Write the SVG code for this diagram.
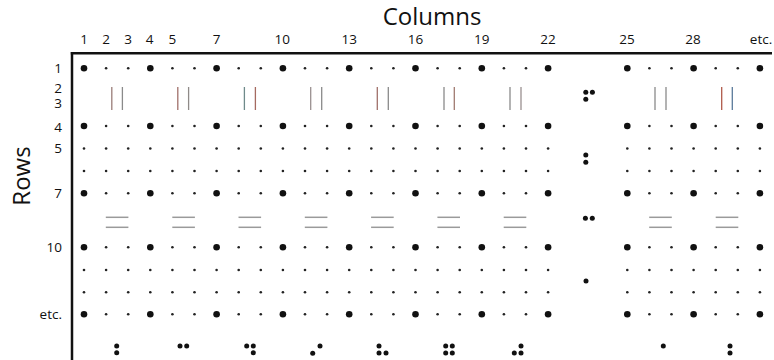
<svg xmlns="http://www.w3.org/2000/svg" xmlns:xlink="http://www.w3.org/1999/xlink" width="774" height="360" viewBox="0 0 774 360">
  <style>
    .lbl { font-family: "Open Sans", "Liberation Sans", sans-serif; font-size: 13.5px; fill: #111; }
    .title { font-family: "Open Sans", "Liberation Sans", sans-serif; font-size: 24px; fill: #111; }
    .axis { stroke: #111; stroke-width: 2.5; fill: none; }
    .eq { stroke: #9a9a9a; stroke-width: 1.5; }
    .vl { stroke-width: 1.3; }
    .big { fill: #111; }
    .sm { fill: #222; }
    .br { fill: #111; }
  </style>
  <defs>
    <g id="rowBig">
      <circle class="big" cx="84" cy="0" r="3.3"/>
      <circle class="sm" cx="106.1" cy="0" r="1.3"/>
      <circle class="sm" cx="128.2" cy="0" r="1.3"/>
      <circle class="big" cx="150.3" cy="0" r="3.3"/>
      <circle class="sm" cx="172.4" cy="0" r="1.3"/>
      <circle class="sm" cx="194.5" cy="0" r="1.3"/>
      <circle class="big" cx="216.6" cy="0" r="3.3"/>
      <circle class="sm" cx="238.7" cy="0" r="1.3"/>
      <circle class="sm" cx="260.8" cy="0" r="1.3"/>
      <circle class="big" cx="282.9" cy="0" r="3.3"/>
      <circle class="sm" cx="305" cy="0" r="1.3"/>
      <circle class="sm" cx="327.1" cy="0" r="1.3"/>
      <circle class="big" cx="349.2" cy="0" r="3.3"/>
      <circle class="sm" cx="371.3" cy="0" r="1.3"/>
      <circle class="sm" cx="393.4" cy="0" r="1.3"/>
      <circle class="big" cx="415.5" cy="0" r="3.3"/>
      <circle class="sm" cx="437.6" cy="0" r="1.3"/>
      <circle class="sm" cx="459.7" cy="0" r="1.3"/>
      <circle class="big" cx="481.8" cy="0" r="3.3"/>
      <circle class="sm" cx="503.9" cy="0" r="1.3"/>
      <circle class="sm" cx="526" cy="0" r="1.3"/>
      <circle class="big" cx="548.1" cy="0" r="3.3"/>
      <circle class="big" cx="627.3" cy="0" r="3.3"/>
      <circle class="sm" cx="649.4" cy="0" r="1.3"/>
      <circle class="sm" cx="671.5" cy="0" r="1.3"/>
      <circle class="big" cx="693.6" cy="0" r="3.3"/>
      <circle class="sm" cx="715.7" cy="0" r="1.3"/>
      <circle class="sm" cx="737.8" cy="0" r="1.3"/>
      <circle class="big" cx="759.9" cy="0" r="3.3"/>
    </g>
    <g id="rowSmall">
      <circle class="sm" cx="84" cy="0" r="1.3"/>
      <circle class="sm" cx="106.1" cy="0" r="1.3"/>
      <circle class="sm" cx="128.2" cy="0" r="1.3"/>
      <circle class="sm" cx="150.3" cy="0" r="1.3"/>
      <circle class="sm" cx="172.4" cy="0" r="1.3"/>
      <circle class="sm" cx="194.5" cy="0" r="1.3"/>
      <circle class="sm" cx="216.6" cy="0" r="1.3"/>
      <circle class="sm" cx="238.7" cy="0" r="1.3"/>
      <circle class="sm" cx="260.8" cy="0" r="1.3"/>
      <circle class="sm" cx="282.9" cy="0" r="1.3"/>
      <circle class="sm" cx="305" cy="0" r="1.3"/>
      <circle class="sm" cx="327.1" cy="0" r="1.3"/>
      <circle class="sm" cx="349.2" cy="0" r="1.3"/>
      <circle class="sm" cx="371.3" cy="0" r="1.3"/>
      <circle class="sm" cx="393.4" cy="0" r="1.3"/>
      <circle class="sm" cx="415.5" cy="0" r="1.3"/>
      <circle class="sm" cx="437.6" cy="0" r="1.3"/>
      <circle class="sm" cx="459.7" cy="0" r="1.3"/>
      <circle class="sm" cx="481.8" cy="0" r="1.3"/>
      <circle class="sm" cx="503.9" cy="0" r="1.3"/>
      <circle class="sm" cx="526" cy="0" r="1.3"/>
      <circle class="sm" cx="548.1" cy="0" r="1.3"/>
      <circle class="sm" cx="627.3" cy="0" r="1.3"/>
      <circle class="sm" cx="649.4" cy="0" r="1.3"/>
      <circle class="sm" cx="671.5" cy="0" r="1.3"/>
      <circle class="sm" cx="693.6" cy="0" r="1.3"/>
      <circle class="sm" cx="715.7" cy="0" r="1.3"/>
      <circle class="sm" cx="737.8" cy="0" r="1.3"/>
      <circle class="sm" cx="759.9" cy="0" r="1.3"/>
    </g>
    <g id="eqSign">
      <line class="eq" x1="-11.3" y1="217.3" x2="11.3" y2="217.3"/>
      <line class="eq" x1="-11.3" y1="227.3" x2="11.3" y2="227.3"/>
    </g>
  </defs>

  <rect width="774" height="360" fill="#fff"/>

  <!-- titles -->
  <text class="title" x="432" y="24.5" text-anchor="middle">Columns</text>
  <text class="title" transform="translate(30,176) rotate(-90)" text-anchor="middle">Rows</text>

  <!-- column labels -->
  <g id="colLabels" class="lbl" text-anchor="middle">
    <text x="84" y="43.5">1</text>
    <text x="106.1" y="43.5">2</text>
    <text x="128.2" y="43.5">3</text>
    <text x="149.5" y="43.5">4</text>
    <text x="172.4" y="43.5">5</text>
    <text x="216.6" y="43.5">7</text>
    <text x="282.3" y="43.5">10</text>
    <text x="349.2" y="43.5">13</text>
    <text x="415.5" y="43.5">16</text>
    <text x="481.8" y="43.5">19</text>
    <text x="548.1" y="43.5">22</text>
    <text x="627" y="43.5">25</text>
    <text x="693" y="43.5">28</text>
    <text x="761" y="43.5">etc.</text>
  </g>

  <!-- row labels -->
  <g id="rowLabels" class="lbl" text-anchor="end">
    <text x="62" y="73">1</text>
    <text x="62" y="93">2</text>
    <text x="62" y="108">3</text>
    <text x="62" y="131.5">4</text>
    <text x="62" y="153">5</text>
    <text x="62" y="198">7</text>
    <text x="62" y="252">10</text>
    <text x="62" y="319">etc.</text>
  </g>

  <!-- axes -->
  <g id="axes">
    <line class="axis" x1="70.8" y1="53.3" x2="772" y2="53.3"/>
    <line class="axis" x1="72" y1="52.1" x2="72" y2="360"/>
  </g>

  <!-- dot grid -->
  <g id="grid">
    <use xlink:href="#rowBig" href="#rowBig" y="68.3"/>
    <use xlink:href="#rowBig" href="#rowBig" y="126"/>
    <use xlink:href="#rowSmall" href="#rowSmall" y="148.5"/>
    <use xlink:href="#rowSmall" href="#rowSmall" y="171"/>
    <use xlink:href="#rowBig" href="#rowBig" y="193.3"/>
    <use xlink:href="#rowBig" href="#rowBig" y="247.3"/>
    <use xlink:href="#rowSmall" href="#rowSmall" y="270"/>
    <use xlink:href="#rowSmall" href="#rowSmall" y="292.3"/>
    <use xlink:href="#rowBig" href="#rowBig" y="314.3"/>
  </g>

  <!-- vertical line pairs (rows 2-3) -->
  <g id="verticalPairs" class="vl">
    <line x1="111.8" y1="87" x2="111.8" y2="110" stroke="#9a7d78"/>
    <line x1="122.4" y1="87" x2="122.4" y2="110" stroke="#8a8a8a"/>
    <line x1="177.8" y1="87" x2="177.8" y2="110" stroke="#a0706a"/>
    <line x1="188.6" y1="87" x2="188.6" y2="110" stroke="#8f8a88"/>
    <line x1="244.4" y1="87" x2="244.4" y2="110" stroke="#6f8a8a"/>
    <line x1="255.4" y1="87" x2="255.4" y2="110" stroke="#a56a60"/>
    <line x1="310.7" y1="87" x2="310.7" y2="110" stroke="#9a9090"/>
    <line x1="321.7" y1="87" x2="321.7" y2="110" stroke="#8a8a8a"/>
    <line x1="377.3" y1="87" x2="377.3" y2="110" stroke="#a0706a"/>
    <line x1="388.3" y1="87" x2="388.3" y2="110" stroke="#8a8a8a"/>
    <line x1="444" y1="87" x2="444" y2="110" stroke="#8a8a8a"/>
    <line x1="454.3" y1="87" x2="454.3" y2="110" stroke="#a07a70"/>
    <line x1="510" y1="87" x2="510" y2="110" stroke="#8a8a8a"/>
    <line x1="521" y1="87" x2="521" y2="110" stroke="#9a9090"/>
    <line x1="655" y1="87" x2="655" y2="110" stroke="#8a8a8a"/>
    <line x1="666" y1="87" x2="666" y2="110" stroke="#8a8a8a"/>
    <line x1="721.7" y1="87" x2="721.7" y2="110" stroke="#b05a4a"/>
    <line x1="732.3" y1="87" x2="732.3" y2="110" stroke="#5a7a9a"/>
  </g>

  <!-- equal-sign pairs (rows 8-9) -->
  <g id="equalPairs">
    <use xlink:href="#eqSign" href="#eqSign" x="117.1"/>
    <use xlink:href="#eqSign" href="#eqSign" x="183.6"/>
    <use xlink:href="#eqSign" href="#eqSign" x="249.8"/>
    <use xlink:href="#eqSign" href="#eqSign" x="316.1"/>
    <use xlink:href="#eqSign" href="#eqSign" x="382.4"/>
    <use xlink:href="#eqSign" href="#eqSign" x="448.7"/>
    <use xlink:href="#eqSign" href="#eqSign" x="515"/>
    <use xlink:href="#eqSign" href="#eqSign" x="660.5"/>
    <use xlink:href="#eqSign" href="#eqSign" x="727"/>
  </g>

  <!-- braille cells in the gap column -->
  <g id="gapBraille" class="br">
    <circle cx="585.8" cy="92.3" r="2.5"/>
    <circle cx="592.4" cy="92.3" r="2.5"/>
    <circle cx="585.8" cy="99.3" r="2.5"/>
    <circle cx="585.8" cy="155" r="2.5"/>
    <circle cx="585.8" cy="162.3" r="2.5"/>
    <circle cx="585.4" cy="218.3" r="2.5"/>
    <circle cx="592.3" cy="218.3" r="2.5"/>
    <circle cx="586" cy="281" r="2.5"/>
  </g>

  <!-- braille cells along the bottom -->
  <g id="bottomBraille" class="br">
    <circle cx="116.7" cy="346" r="2.5"/>
    <circle cx="116.7" cy="352.8" r="2.5"/>

    <circle cx="180" cy="346" r="2.5"/>
    <circle cx="186.7" cy="346" r="2.5"/>

    <circle cx="246.7" cy="346" r="2.5"/>
    <circle cx="253.3" cy="346" r="2.5"/>
    <circle cx="253.3" cy="352.8" r="2.5"/>

    <circle cx="312.7" cy="353.2" r="2.5"/>
    <circle cx="320" cy="346" r="2.5"/>

    <circle cx="379" cy="346" r="2.5"/>
    <circle cx="379" cy="353" r="2.5"/>
    <circle cx="386" cy="353" r="2.5"/>

    <circle cx="445.7" cy="346" r="2.5"/>
    <circle cx="452.3" cy="346" r="2.5"/>
    <circle cx="445.7" cy="353" r="2.5"/>
    <circle cx="452.3" cy="353" r="2.5"/>

    <circle cx="521" cy="346" r="2.5"/>
    <circle cx="514.3" cy="353" r="2.5"/>
    <circle cx="521" cy="353" r="2.5"/>

    <circle cx="663.3" cy="346" r="2.5"/>

    <circle cx="730" cy="346" r="2.5"/>
    <circle cx="730" cy="353" r="2.5"/>
  </g>
</svg>
